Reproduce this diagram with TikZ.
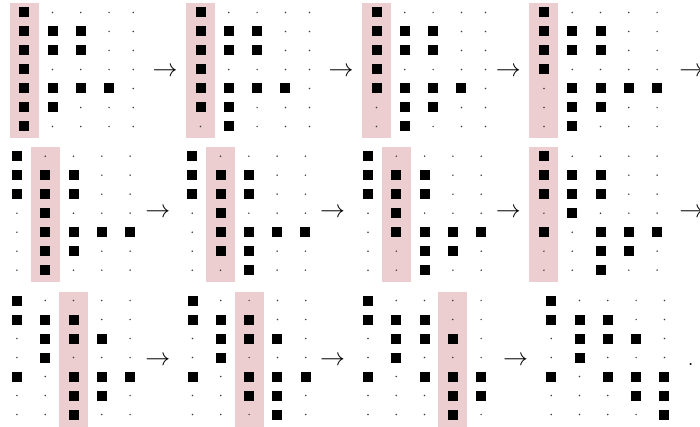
\documentclass[tikz,border=0pt]{standalone}
\usepackage{tikz}
\usetikzlibrary{matrix, positioning, fit, backgrounds}
\definecolor{keptpink}{RGB}{236,205,208}
\definecolor{dotgray}{RGB}{60,60,60}

\begin{document}
\begin{tikzpicture}[
    x=1pt, y=-1pt,
    dt/.style={circle, fill=dotgray, inner sep=0pt, outer sep=0pt, minimum size=1.7pt},
    sq/.style={rectangle, fill=black, inner sep=0pt, outer sep=0pt, minimum size=10pt},
    grid/.style={matrix of nodes, nodes in empty cells, inner sep=0pt, column sep=18.3pt, row sep=9pt, nodes={dt}, anchor=north west},
    keep/.style={fill=keptpink, inner xsep=14.5pt, inner ysep=10.5pt, yshift=-1.5pt},
    arr/.style={anchor=base, inner sep=0pt, font=\Huge}
]
\useasboundingbox (0,0) rectangle (700,427);
\clip (0,0) rectangle (700,427);

% First row
\matrix (grid11) [grid] at (19,7.3) {
|[sq]| & & & & \\
|[sq]| & |[sq]| & |[sq]| & & \\
|[sq]| & |[sq]| & |[sq]| & & \\
|[sq]| & & & & \\
|[sq]| & |[sq]| & |[sq]| & |[sq]| & \\
|[sq]| & |[sq]| & & & \\
|[sq]| & & & & \\
};
\node[arr] (to11) at (165,76.2) {$\to$};

\matrix (grid12) [grid] at (195.3,7.3) {
|[sq]| & & & & \\
|[sq]| & |[sq]| & |[sq]| & & \\
|[sq]| & |[sq]| & |[sq]| & & \\
|[sq]| & & & & \\
|[sq]| & |[sq]| & |[sq]| & |[sq]| & \\
|[sq]| & |[sq]| & & & \\
 & |[sq]| & & & \\
};
\node[arr] (to12) at (341,76.2) {$\to$};

\matrix (grid13) [grid] at (371.3,7.3) {
|[sq]| & & & & \\
|[sq]| & |[sq]| & |[sq]| & & \\
|[sq]| & |[sq]| & |[sq]| & & \\
|[sq]| & & & & \\
|[sq]| & |[sq]| & |[sq]| & |[sq]| & \\
 & |[sq]| & |[sq]| & & \\
 & |[sq]| & & & \\
};
\node[arr] (to13) at (508.3,76.2) {$\to$};

\matrix (grid14) [grid] at (538.7,7.3) {
|[sq]| & & & & \\
|[sq]| & |[sq]| & |[sq]| & & \\
|[sq]| & |[sq]| & |[sq]| & & \\
|[sq]| & & & & \\
 & |[sq]| & |[sq]| & |[sq]| & |[sq]| \\
 & |[sq]| & |[sq]| & & \\
 & |[sq]| & & & \\
};
\node[arr] (to14) at (691.7,76.2) {$\to$};

% Second row
\matrix (grid21) [grid] at (11.7,151) {
|[sq]| & & & & \\
|[sq]| & |[sq]| & |[sq]| & & \\
|[sq]| & |[sq]| & |[sq]| & & \\
 & |[sq]| & & & \\
 & |[sq]| & |[sq]| & |[sq]| & |[sq]| \\
 & |[sq]| & |[sq]| & & \\
 & |[sq]| & & & \\
};
\node[arr] (to21) at (157.8,217.9) {$\to$};

\matrix (grid22) [grid] at (187,151) {
|[sq]| & & & & \\
|[sq]| & |[sq]| & |[sq]| & & \\
|[sq]| & |[sq]| & |[sq]| & & \\
 & |[sq]| & & & \\
 & |[sq]| & |[sq]| & |[sq]| & |[sq]| \\
 & |[sq]| & |[sq]| & & \\
 & & |[sq]| & & \\
};
\node[arr] (to22) at (332.5,217.9) {$\to$};

\matrix (grid23) [grid] at (362.8,151) {
|[sq]| & & & & \\
|[sq]| & |[sq]| & |[sq]| & & \\
|[sq]| & |[sq]| & |[sq]| & & \\
 & |[sq]| & & & \\
 & |[sq]| & |[sq]| & |[sq]| & |[sq]| \\
 & & |[sq]| & |[sq]| & \\
 & & |[sq]| & & \\
};
\node[arr] (to23) at (508.3,217.9) {$\to$};

\matrix (grid24) [grid] at (538.7,151) {
|[sq]| & & & & \\
|[sq]| & |[sq]| & |[sq]| & & \\
|[sq]| & |[sq]| & |[sq]| & & \\
 & |[sq]| & & & \\
|[sq]| & & |[sq]| & |[sq]| & |[sq]| \\
 & & |[sq]| & |[sq]| & \\
 & & |[sq]| & & \\
};
\node[arr] (to24) at (691.7,217.9) {$\to$};

% Third row
\matrix (grid31) [grid] at (11.7,295.3) {
|[sq]| & & & & \\
|[sq]| & |[sq]| & |[sq]| & & \\
 & |[sq]| & |[sq]| & |[sq]| & \\
 & |[sq]| & & & \\
|[sq]| & & |[sq]| & |[sq]| & |[sq]| \\
 & & |[sq]| & |[sq]| & \\
 & & |[sq]| & & \\
};
\node[arr] (to31) at (157.8,365.2) {$\to$};

\matrix (grid32) [grid] at (187.3,295.3) {
|[sq]| & & & & \\
|[sq]| & |[sq]| & |[sq]| & & \\
 & |[sq]| & |[sq]| & |[sq]| & \\
 & |[sq]| & & & \\
|[sq]| & & |[sq]| & |[sq]| & |[sq]| \\
 & & |[sq]| & |[sq]| & \\
 & & & |[sq]| & \\
};
\node[arr] (to32) at (332.5,365.2) {$\to$};

\matrix (grid33) [grid] at (362.7,295.3) {
|[sq]| & & & & \\
|[sq]| & |[sq]| & |[sq]| & & \\
 & |[sq]| & |[sq]| & |[sq]| & \\
 & |[sq]| & & & \\
|[sq]| & & |[sq]| & |[sq]| & |[sq]| \\
 & & & |[sq]| & |[sq]| \\
 & & & |[sq]| & \\
};
\node[arr] (to33) at (515.6,365.2) {$\to$};

\matrix (grid34) [grid] at (546,295.3) {
|[sq]| & & & & \\
|[sq]| & |[sq]| & |[sq]| & & \\
 & |[sq]| & |[sq]| & |[sq]| & \\
 & |[sq]| & & & \\
|[sq]| & & |[sq]| & |[sq]| & |[sq]| \\
 & & & |[sq]| & |[sq]| \\
 & & & & |[sq]| \\
};
\node[arr] (stop) at (690.7,365.2) {.};

% Highlighted columns
\begin{scope}[on background layer]
\node[keep, fit=(grid11-1-1.center)(grid11-7-1.center)] (col11) {};
\node[keep, fit=(grid12-1-1.center)(grid12-7-1.center)] (col12) {};
\node[keep, fit=(grid13-1-1.center)(grid13-7-1.center)] (col13) {};
\node[keep, fit=(grid14-1-1.center)(grid14-7-1.center)] (col14) {};
\node[keep, fit=(grid21-1-2.center)(grid21-7-2.center)] (col21) {};
\node[keep, fit=(grid22-1-2.center)(grid22-7-2.center)] (col22) {};
\node[keep, fit=(grid23-1-2.center)(grid23-7-2.center)] (col23) {};
\node[keep, fit=(grid24-1-1.center)(grid24-7-1.center)] (col24) {};
\node[keep, fit=(grid31-1-3.center)(grid31-7-3.center)] (col31) {};
\node[keep, fit=(grid32-1-3.center)(grid32-7-3.center)] (col32) {};
\node[keep, fit=(grid33-1-4.center)(grid33-7-4.center)] (col33) {};
\end{scope}

\end{tikzpicture}
\end{document}
